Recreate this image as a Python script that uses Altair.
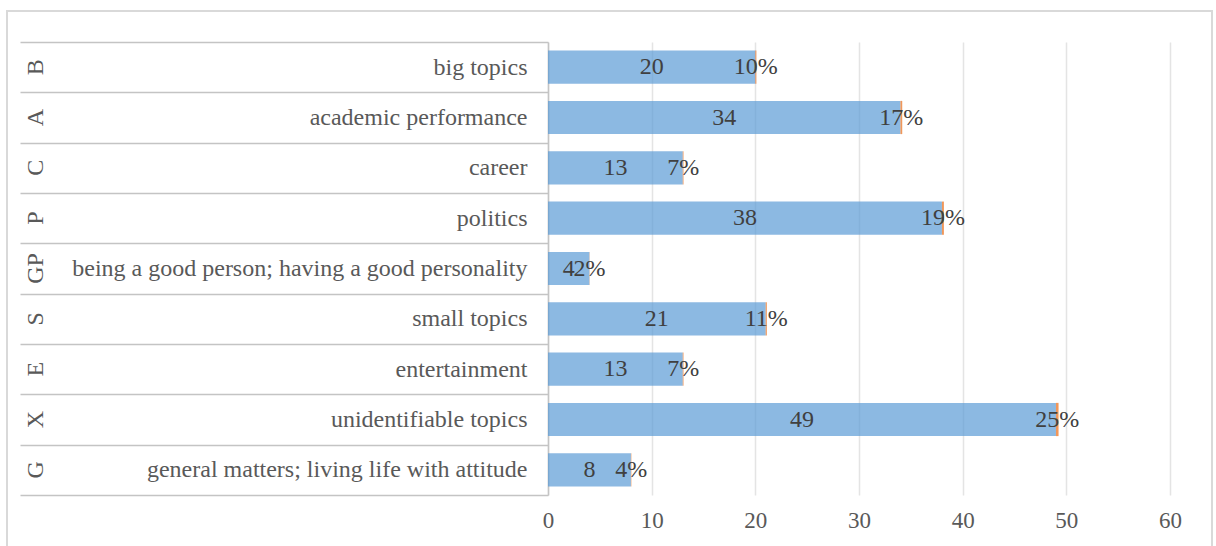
import altair as alt
import pandas as pd

codes = ["B", "A", "C", "P", "GP", "S", "E", "X", "G"]
labels = ["big topics", "academic performance", "career", "politics",
          "being a good person; having a good personality", "small topics",
          "entertainment", "unidentifiable topics",
          "general matters; living life with attitude"]
counts = [20, 34, 13, 38, 4, 21, 13, 49, 8]
pcts = [0.10, 0.17, 0.07, 0.19, 0.02, 0.11, 0.07, 0.25, 0.04]
x_ticks = [0, 10, 20, 30, 40, 50, 60]

df = pd.DataFrame({"code": codes, "label": labels, "count": counts, "pct": pcts})
df["end"] = df["count"] + df["pct"]
df["mid"] = df["count"] / 2
df["pmid"] = df["count"] + df["pct"] / 2
df["ptxt"] = [f"{round(p*100)}%" for p in pcts]

FONT = "Liberation Serif"

y_enc = alt.Y("label:N", sort=labels, title=None,
              scale=alt.Scale(paddingInner=0, paddingOuter=0),
              axis=alt.Axis(tickBand="extent", tickSize=528, tickColor="#c4c4c4",
                            tickWidth=1.5, domainColor="#c4c4c4", domainWidth=1.5,
                            labelPadding=-507, labelLimit=700, labelFont=FONT,
                            labelFontSize=24, labelColor="#595959"))

x_scale = alt.Scale(domain=[0, 60], nice=False)
x_axis = alt.Axis(values=x_ticks, grid=True, gridColor="#e4e4e4", gridWidth=1.5,
                  domain=False, ticks=False, labelPadding=14, labelFont=FONT,
                  labelFontSize=23, labelColor="#595959", labelFlush=False, title=None)

base = alt.Chart(df)
Y = alt.Y("label:N", sort=labels)

bars = base.mark_bar(color="#5B9BD5", opacity=0.7,
                     height=alt.RelativeBandSize(0.66)).encode(
    y=y_enc,
    x=alt.X("count:Q", scale=x_scale, axis=x_axis),
)
orange = base.mark_bar(color="#ED7D31", opacity=0.8,
                       height=alt.RelativeBandSize(0.66)).encode(
    y=Y, x=alt.X("count:Q"), x2="end:Q",
)
cnt_txt = base.mark_text(font=FONT, fontSize=24, color="#404040", baseline="middle").encode(
    y=Y, x="mid:Q", text="count:Q")
pct_txt = base.mark_text(font=FONT, fontSize=24, color="#404040", baseline="middle").encode(
    y=Y, x="pmid:Q", text="ptxt:N")
code_txt = base.mark_text(font=FONT, fontSize=24, color="#595959", baseline="middle",
                          align="center", angle=270).encode(
    y=Y, x=alt.value(-512), text="code:N")

frame = alt.Chart(pd.DataFrame({"a": [0]})).mark_rect(
    filled=False, stroke="#d9d9d9", strokeWidth=2).encode(
    x=alt.value(-541), x2=alt.value(664), y=alt.value(-31), y2=alt.value(530))

chart = alt.layer(frame, bars, orange, cnt_txt, pct_txt, code_txt).properties(
    width=622, height=453,
    background="white",
    autosize=alt.AutoSizeParams(type="none"),
    padding={"left": 548, "top": 42, "right": 46, "bottom": 51},
).configure_view(stroke=None)

chart.save("out.html", embed_options={"renderer": "svg", "actions": False})
